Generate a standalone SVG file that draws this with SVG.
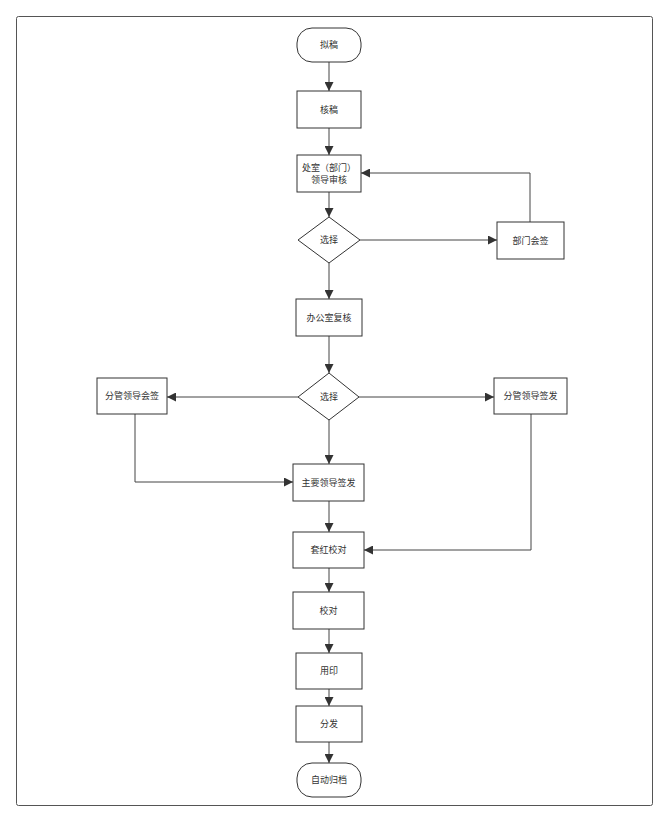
<svg xmlns="http://www.w3.org/2000/svg" width="668" height="824" viewBox="0 0 668 824">
<style>
.n{fill:#fff;stroke:#333;stroke-width:1}
.t{font-family:"Liberation Sans","Noto Sans CJK SC",sans-serif;font-size:9px;fill:#333;text-anchor:middle;dominant-baseline:central}
.c{fill:none;stroke:#444;stroke-width:1}
</style>
<defs>
<marker id="a" viewBox="0 0 10 10" refX="10" refY="5" markerWidth="9" markerHeight="9" markerUnits="userSpaceOnUse" orient="auto"><path d="M0,0 L10,5 L0,10 z" fill="#333"/></marker>
</defs>
<rect width="668" height="824" fill="#fff"/>
<rect x="16.5" y="16.5" width="636" height="789" rx="2" fill="none" stroke="#555" stroke-width="1"/>
<g id="connectors">
<path class="c" d="M329,62 V91" marker-end="url(#a)"/>
<path class="c" d="M329,128 V155" marker-end="url(#a)"/>
<path class="c" d="M329,192 V217" marker-end="url(#a)"/>
<path class="c" d="M360,240 H497" marker-end="url(#a)"/>
<path class="c" d="M530,222 V173 H361" marker-end="url(#a)"/>
<path class="c" d="M329,263 V299" marker-end="url(#a)"/>
<path class="c" d="M329,336 V373" marker-end="url(#a)"/>
<path class="c" d="M298,397 H167" marker-end="url(#a)"/>
<path class="c" d="M359,397 H494" marker-end="url(#a)"/>
<path class="c" d="M329,420 V464" marker-end="url(#a)"/>
<path class="c" d="M135,414 V482 H293" marker-end="url(#a)"/>
<path class="c" d="M329,501 V532" marker-end="url(#a)"/>
<path class="c" d="M531,414 V550 H364" marker-end="url(#a)"/>
<path class="c" d="M329,568 V592" marker-end="url(#a)"/>
<path class="c" d="M329,629 V653" marker-end="url(#a)"/>
<path class="c" d="M329,689 V706" marker-end="url(#a)"/>
<path class="c" d="M329,742 V763" marker-end="url(#a)"/>
</g>
<g id="n1"><rect class="n" x="297" y="28" width="64" height="34" rx="15"/><text class="t" x="329" y="45">拟稿</text></g>
<g id="n2"><rect class="n" x="297" y="91" width="64" height="37"/><text class="t" x="329" y="109.5">核稿</text></g>
<g id="n3"><rect class="n" x="297" y="155" width="64" height="37"/><text class="t" x="329" y="167.5">处室（部门）</text><text class="t" x="329" y="180">领导审核</text></g>
<g id="d1"><polygon class="n" points="329,217 360,240 329,263 298,240"/><text class="t" x="329" y="240">选择</text></g>
<g id="n4"><rect class="n" x="497" y="222" width="67" height="37"/><text class="t" x="530.5" y="240.5">部门会签</text></g>
<g id="n5"><rect class="n" x="296" y="299" width="66" height="37"/><text class="t" x="329" y="317.5">办公室复核</text></g>
<g id="d2"><polygon class="n" points="329,373 359,397 329,420 298,397"/><text class="t" x="329" y="397">选择</text></g>
<g id="n6"><rect class="n" x="97" y="378" width="70" height="36"/><text class="t" x="132" y="396">分管领导会签</text></g>
<g id="n7"><rect class="n" x="494" y="378" width="73" height="36"/><text class="t" x="530.5" y="396">分管领导签发</text></g>
<g id="n8"><rect class="n" x="293" y="464" width="71" height="37"/><text class="t" x="328.5" y="482.5">主要领导签发</text></g>
<g id="n9"><rect class="n" x="293" y="532" width="71" height="36"/><text class="t" x="328.5" y="550">套红校对</text></g>
<g id="n10"><rect class="n" x="293" y="592" width="71" height="37"/><text class="t" x="328.5" y="610.5">校对</text></g>
<g id="n11"><rect class="n" x="296" y="653" width="66" height="36"/><text class="t" x="329" y="671">用印</text></g>
<g id="n12"><rect class="n" x="296" y="706" width="66" height="36"/><text class="t" x="329" y="724">分发</text></g>
<g id="n13"><rect class="n" x="297" y="763" width="64" height="34" rx="15"/><text class="t" x="329" y="780">自动归档</text></g>
</svg>
